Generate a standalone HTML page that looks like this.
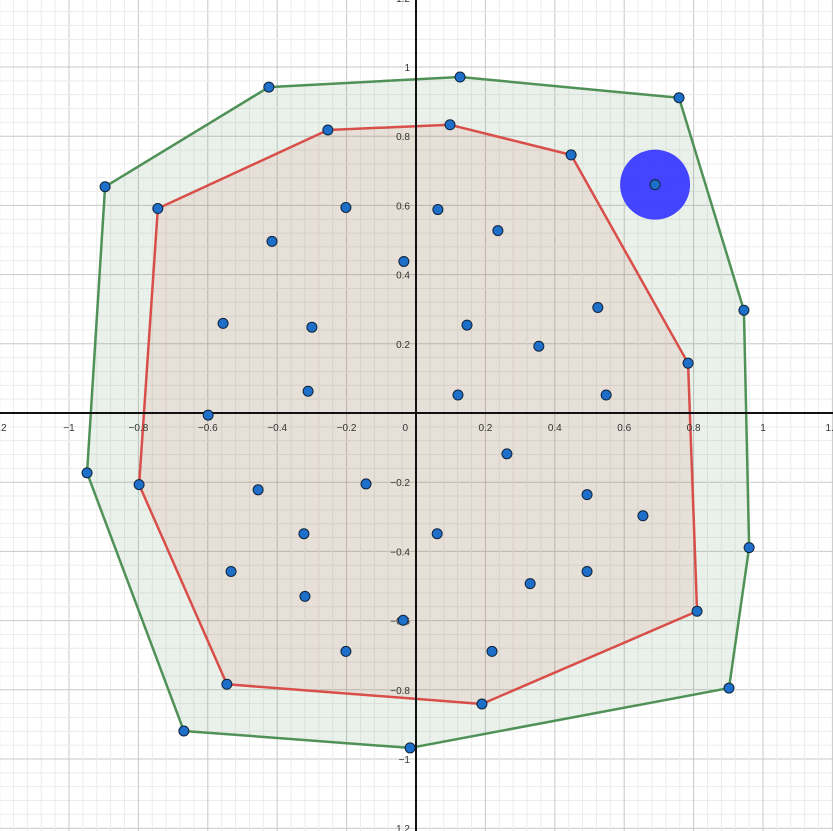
<!DOCTYPE html>
<html><head><meta charset="utf-8"><style>
html,body{margin:0;padding:0;background:#fff;width:833px;height:831px;overflow:hidden}
svg{display:block;font-family:"Liberation Sans",sans-serif;overflow:hidden}
</style></head><body>
<svg id="chart" width="833" height="831" viewBox="0 0 833 831" xmlns="http://www.w3.org/2000/svg">
<g id="grid"></g>
<g id="polys"></g>
<g id="axes"></g>
<g id="pts"></g>
</svg>
<script>
const outerX=[-0.424,0.127,0.758,0.945,0.960,0.902,-0.017,-0.669,-0.948,-0.896];
const outerY=[0.942,0.971,0.911,0.297,-0.389,-0.795,-0.968,-0.919,-0.173,0.654];
const innerX=[-0.254,0.098,0.447,0.784,0.810,0.190,-0.545,-0.798,-0.744];
const innerY=[0.818,0.833,0.746,0.144,-0.573,-0.841,-0.784,-0.207,0.591];
const otherX=[-0.202,0.063,-0.415,0.236,-0.035,-0.556,-0.300,0.147,0.524,0.354,-0.311,0.121,0.548,-0.599,0.262,-0.455,-0.144,0.493,0.654,-0.323,0.061,-0.533,0.329,0.493,-0.320,-0.037,-0.202,0.219];
const otherY=[0.594,0.588,0.496,0.527,0.438,0.259,0.248,0.254,0.305,0.193,0.063,0.052,0.052,-0.006,-0.118,-0.222,-0.205,-0.236,-0.297,-0.349,-0.349,-0.458,-0.493,-0.458,-0.530,-0.599,-0.689,-0.689];
const hiX=[0.689], hiY=[0.660];
const tickVals=[-1.2,-1,-0.8,-0.6,-0.4,-0.2,0.2,0.4,0.6,0.8,1,1.2];
const tickLabels=["1.2","−1","−0.8","−0.6","−0.4","−0.2","0.2","0.4","0.6","0.8","1","1.2"];
const NS="http://www.w3.org/2000/svg";
const X=v=>416+v*347, Y=v=>413-v*346;
function mk(tag,attrs,parent){const e=document.createElementNS(NS,tag);for(const k in attrs)e.setAttribute(k,attrs[k]);parent.appendChild(e);return e;}
const grid=document.getElementById('grid');
for(let i=-35;i<=35;i++){const v=i*0.04;const major=(i%5===0);
 const c=major?'#c8c8c8':'#ececec';
 const l1=mk('line',{x1:X(v),x2:X(v),y1:0,y2:831,stroke:c,'stroke-width':1},grid);
 
 
 const l2=mk('line',{y1:Y(v),y2:Y(v),x1:0,x2:833,stroke:c,'stroke-width':1},grid);
 
 
}
const polys=document.getElementById('polys');
const op=mk('polygon',{points:outerX.map((x,i)=>X(x)+','+Y(outerY[i])).join(' '),fill:'rgba(80,140,80,0.12)',stroke:'#4f9157','stroke-width':2.5,'stroke-linejoin':'round'},polys);


const ip=mk('polygon',{points:innerX.map((x,i)=>X(x)+','+Y(innerY[i])).join(' '),fill:'rgba(210,80,60,0.1)',stroke:'#d84f4a','stroke-width':2.5,'stroke-linejoin':'round'},polys);


const axes=document.getElementById('axes');
const ax=mk('line',{x1:0,x2:833,y1:Y(0),y2:Y(0),stroke:'#111','stroke-width':2},axes);


const ay=mk('line',{y1:0,y2:831,x1:X(0),x2:X(0),stroke:'#111','stroke-width':2},axes);


tickVals.forEach((v,i)=>{
 const t=mk('text',{x:X(v),y:Y(0)+18,'text-anchor':'middle','font-size':10,fill:'#333'},axes);t.textContent=tickLabels[i];
 
 
 const u=mk('text',{x:X(0)-6,y:Y(v)+4,'text-anchor':'end','font-size':10,fill:'#333'},axes);u.textContent=tickLabels[i];
 
 
});
const z=mk('text',{x:X(0)-8,y:Y(0)+18,'text-anchor':'end','font-size':10,fill:'#333'},axes);z.textContent='0';


const pts=document.getElementById('pts');
const hc=mk('circle',{cx:X(hiX[0]),cy:Y(hiY[0]),r:35,fill:'#3b3bff',opacity:0.95},pts);


function dots(xs,ys,name){xs.forEach((x,i)=>{const c=mk('circle',{cx:X(x),cy:Y(ys[i]),r:5,fill:'#1d6fc9',stroke:'#10233a','stroke-width':1},pts);
 
 });}
dots(outerX,outerY,'outer-point');dots(innerX,innerY,'inner-point');dots(otherX,otherY,'point');dots(hiX,hiY,'highlighted-point');
</script>
</body></html>
